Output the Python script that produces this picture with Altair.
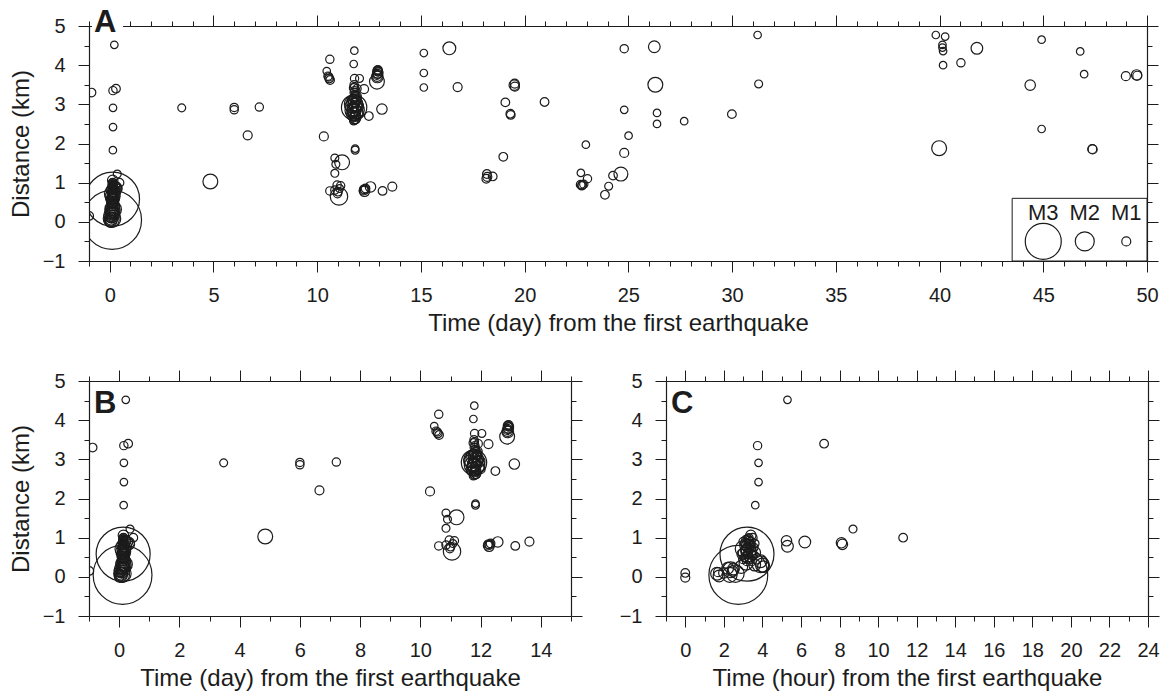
import altair as alt
import pandas as pd

# ---------------- data ----------------
# events in the first day after the first earthquake (time in hours)
early_hours = [0.0, 0.0, 1.65, 1.75, 1.7, 2.2, 2.3, 2.45, 2.6, 2.75, 3.2, 2.9, 3.15, 3.0, 3.05,
               3.25, 3.3, 3.4, 3.5, 3.2, 3.3, 3.4, 3.6, 3.7, 3.9, 4.0, 4.05, 3.0, 3.1, 3.25,
               3.5, 3.15, 3.35, 2.95, 3.6, 3.45, 3.63, 3.8, 3.8, 3.75, 5.3, 7.2, 5.25, 5.3,
               6.2, 8.1, 8.15, 8.7, 11.3, 2.35, 3.9,
               3.1, 3.2, 3.3, 3.35, 3.05, 3.25, 3.4, 3.15, 3.3, 3.45, 3.2, 3.55, 3.1, 3.35,
               3.0, 2.5, 2.0, 3.6]
early_km = [0.10, -0.02, 0.08, 0.02, 0.12, 0.22, 0.05, 0.15, 0.08, 0.05, 0.58, 0.25, 0.35, 0.72, 0.60,
            0.80, 0.92, 1.06, 1.00, 0.50, 0.65, 0.76, 0.62, 0.46, 0.40, 0.30, 0.26, 0.45, 0.86, 0.97,
            0.55, 0.70, 0.55, 0.58, 0.85, 0.40, 1.83, 2.42, 2.91, 3.35, 4.52, 3.40, 0.92, 0.78,
            0.89, 0.87, 0.83, 1.22, 1.00, 0.18, 0.32,
            0.65, 0.75, 0.70, 0.85, 0.80, 0.60, 0.90, 0.95, 1.00, 0.65, 0.40, 0.75, 0.50, 0.45,
            0.90, 0.20, 0.10, 0.30]
early_mag = [0.9, 1.0, 1.3, 1.2, 1.0, 1.2, 1.5, 1.1, 1.8, 3.6, 3.45, 1.3, 1.4, 1.6, 1.2,
             1.3, 1.0, 1.1, 0.9, 1.2, 1.5, 1.1, 1.2, 1.1, 1.3, 1.4, 1.2, 1.0, 1.0, 0.9,
             1.0, 1.1, 1.3, 1.1, 0.9, 1.0, 0.6, 0.6, 0.6, 0.8, 0.6, 0.9, 1.1, 1.2,
             1.2, 1.1, 1.1, 0.7, 0.9, 1.6, 1.7,
             0.9, 1.0, 0.9, 1.0, 0.9, 1.0, 0.9, 0.9, 0.8, 0.9, 1.0, 0.9, 0.9, 1.0,
             0.8, 1.2, 1.1, 1.2]

# later events (time in days)
late_days = [-0.88, -0.99,
             3.47, 6.0, 6.0, 7.21, 6.65, 4.85,
             10.32, 10.61, 11.79, 11.76, 10.46, 10.52, 10.58, 10.62, 10.56, 11.8, 12.04,
             11.92, 12.26, 12.49, 13.12,
             12.90, 12.92, 12.88, 12.90, 12.88, 12.95, 12.93, 12.90, 12.91, 12.89,
             11.78, 11.72, 11.85, 11.80, 11.75, 11.90, 11.82, 11.70, 11.88, 11.80, 11.76,
             11.84, 11.95, 11.65, 11.80, 12.00, 11.78, 11.90, 11.70, 11.85, 11.75,
             11.78, 11.82, 11.74, 11.86, 11.80, 11.77, 11.83, 11.79, 11.87, 11.73, 11.81,
             11.85, 11.76, 11.90, 11.68, 11.80, 11.84, 11.79,
             11.83, 11.83, 10.85, 10.90, 11.20, 10.85,
             10.61, 10.85, 10.96, 11.13, 11.00, 11.05, 11.08, 10.98,
             12.24, 12.28, 12.30, 12.33, 12.25, 12.57, 13.15, 13.62,
             15.14, 15.14, 15.14, 16.37, 16.77, 19.07, 19.31, 19.33, 19.52, 19.50, 19.53,
             20.96, 18.97, 18.18, 18.15, 18.46, 18.20, 22.71, 22.95, 23.03,
             22.70, 22.78, 22.85, 22.75, 23.87, 24.05, 24.26, 24.64, 24.8, 25.01, 24.8,
             24.8, 26.25, 26.3, 26.38, 26.38, 27.69, 29.99, 31.23, 31.28,
             39.82, 40.27, 40.14, 40.14, 40.17, 40.17, 41.03, 41.8, 39.98, 44.92, 44.37,
             44.92, 46.78, 46.97, 47.36, 47.38, 48.98, 49.5, 49.53]
late_km = [3.30, 0.15,
           2.91, 2.92, 2.86, 2.93, 2.21, 1.03,
           2.18, 4.15, 4.37, 4.03, 3.85, 3.72, 3.66, 3.62, 3.70, 3.66, 3.66,
           3.40, 3.39, 2.70, 2.88,
           3.86, 3.80, 3.75, 3.70, 3.58, 3.83, 3.88, 3.78, 3.84, 3.72,
           2.92, 2.85, 3.00, 3.10, 2.75, 2.80, 2.65, 3.05, 3.20, 3.30, 3.42,
           2.70, 2.95, 2.95, 2.60, 2.75, 3.50, 3.10, 2.70, 2.85, 3.00,
           2.95, 3.05, 2.90, 2.90, 2.80, 3.15, 3.25, 2.70, 3.05, 2.80, 3.35,
           2.62, 2.58, 2.95, 3.10, 3.45, 3.15, 2.85,
           1.87, 1.83, 1.63, 1.47, 1.52, 1.24,
           0.79, 0.81, 0.94, 0.92, 0.77, 0.65, 0.85, 0.72,
           0.80, 0.78, 0.82, 0.85, 0.83, 0.89, 0.79, 0.90,
           4.31, 3.80, 3.43, 4.43, 3.44, 3.05, 2.76, 2.73, 3.53, 3.49, 3.45,
           3.06, 1.66, 1.22, 1.10, 1.16, 1.15, 1.25, 1.97, 1.10,
           0.95, 0.94, 0.96, 0.92, 0.69, 0.91, 1.18, 1.22, 1.76, 2.20, 2.86,
           4.42, 4.47, 3.50, 2.78, 2.50, 2.57, 2.75, 4.77, 3.52,
           4.77, 4.73, 4.52, 4.45, 4.36, 4.00, 4.06, 4.43, 1.88, 4.65, 3.49,
           2.37, 4.35, 3.77, 1.86, 1.85, 3.72, 3.75, 3.73]
late_mag = [0.9, 0.9,
            0.7, 0.8, 0.8, 0.8, 1.0, 1.5,
            1.0, 0.8, 0.6, 0.6, 0.6, 0.8, 0.9, 0.9, 0.8, 0.8, 0.7,
            0.8, 1.0, 0.9, 1.1,
            1.0, 1.1, 1.0, 1.2, 1.5, 0.9, 0.9, 1.0, 1.0, 1.1,
            2.3, 1.6, 1.5, 1.3, 1.4, 1.3, 1.2, 1.2, 1.1, 1.0, 0.9,
            1.1, 1.2, 1.3, 1.0, 1.0, 0.8, 1.0, 1.0, 1.8, 1.9,
            1.0, 0.9, 0.9, 1.0, 0.9, 0.9, 0.8, 0.9, 1.0, 1.1, 0.8,
            0.9, 0.8, 1.1, 1.0, 0.7, 1.2, 1.4,
            0.6, 0.7, 0.7, 0.7, 1.5, 0.7,
            0.8, 0.8, 0.8, 0.8, 0.9, 1.8, 0.7, 0.8,
            1.0, 1.1, 1.0, 0.9, 0.9, 1.1, 0.9, 1.0,
            0.6, 0.6, 0.6, 1.3, 1.0, 0.9, 0.9, 0.9, 1.0, 1.1, 1.0,
            0.9, 0.9, 0.9, 0.9, 0.9, 1.0, 0.6, 0.6, 0.8,
            0.9, 0.9, 0.8, 0.8, 0.9, 0.7, 0.9, 1.4, 1.0, 0.6, 0.6,
            0.8, 1.2, 1.5, 0.6, 0.6, 0.6, 0.9, 0.6, 0.7,
            0.6, 0.6, 0.6, 0.6, 0.6, 0.6, 0.8, 1.2, 1.5, 0.6, 1.1,
            0.6, 0.6, 0.6, 1.0, 1.0, 1.0, 1.1, 1.0]

# magnitude legend of panel A (placed in data coordinates)
legend_day = [45, 47, 49]
legend_km = [-0.5, -0.5, -0.5]
legend_mag = [3, 2, 1]
legend_label = ["M3", "M2", "M1"]
legend_label_km = [0.22, 0.22, 0.22]
legend_box_day = [43.5, 50]
legend_box_km = [-1, 0.6]

# tick values
y_major = [-1, 0, 1, 2, 3, 4, 5]
y_minor = [-0.5, 0.5, 1.5, 2.5, 3.5, 4.5]
a_major = list(range(0, 51, 5))
a_minor = [d for d in range(-1, 51) if d % 5 != 0]
b_major = list(range(0, 15, 2))
b_minor = list(range(-1, 16, 2))
c_major = list(range(0, 25, 2))
c_minor = list(range(-1, 24, 2))

# ---------------- tables ----------------
events = pd.DataFrame({
    "day": [h / 24 for h in early_hours] + late_days,
    "km": early_km + late_km,
    "mag": early_mag + late_mag,
})
events["hour"] = events["day"] * 24
first_day = events[(events["day"] > -1 / 24) & (events["day"] <= 1)].reset_index(drop=True)

legend_df = pd.DataFrame({"day": legend_day, "km": legend_km, "mag": legend_mag,
                          "label": legend_label, "label_km": legend_label_km})
box_df = pd.DataFrame({"x": [legend_box_day[0]], "x2": [legend_box_day[1]],
                       "y": [legend_box_km[0]], "y2": [legend_box_km[1]]})

FONT = "Liberation Sans"
INK = "#1c1c1c"
SIZE = alt.Scale(domain=[0, 1, 2, 3, 4], range=[20, 81, 361, 1296, 4900])
Y_SCALE = alt.Scale(domain=[-1, 5], nice=False, zero=False)


def ax(orient, values, size, labels=False, title=None, domain=False, title_pad=6):
    return alt.Axis(orient=orient, values=values, tickSize=size, labels=labels,
                    domain=domain, grid=False, ticks=True, title=title,
                    titlePadding=title_pad, labelPadding=13, labelFlush=False,
                    labelOverlap=False, labelFont=FONT, labelFontSize=20,
                    titleFont=FONT, titleFontSize=24, titleFontWeight="normal",
                    labelColor=INK, titleColor=INK, tickColor=INK, domainColor=INK,
                    domainWidth=1.2, tickWidth=1)


def panel(df, xf, xdom, xmaj, xmin, w, h, xtitle, ytitle, letter, mask=False, legend=False):
    xs = alt.Scale(domain=xdom, nice=False, zero=False)
    base = alt.Chart(df)
    pts = base.mark_point(shape="circle", filled=False, clip=True, color=INK,
                          strokeWidth=1.2, opacity=1).encode(
        x=alt.X(f"{xf}:Q", scale=xs,
                axis=ax("bottom", xmaj, 11, labels=True, title=xtitle, domain=True, title_pad=6)),
        y=alt.Y("km:Q", scale=Y_SCALE,
                axis=ax("left", y_major, 11, labels=True, title=ytitle, domain=True, title_pad=9)),
        size=alt.Size("mag:Q", scale=SIZE, legend=None),
    )

    def ghost(xaxis, yaxis):
        return base.mark_point(opacity=0, clip=True, size=1).encode(
            x=alt.X(f"{xf}:Q", scale=xs, axis=xaxis),
            y=alt.Y("km:Q", scale=Y_SCALE, axis=yaxis))

    layers = [
        ghost(ax("bottom", xmin, 5), ax("left", y_minor, 5)),
        ghost(ax("top", xmaj, 11, domain=True), ax("right", y_major, 11, domain=True)),
        ghost(ax("top", xmin, 5), ax("right", y_minor, 5)),
        pts,
    ]
    if legend:
        layers.append(alt.Chart(box_df).mark_rect(fill="white", stroke=INK, strokeWidth=1).encode(
            x=alt.X("x:Q", scale=xs, axis=None), x2="x2:Q",
            y=alt.Y("y:Q", scale=Y_SCALE, axis=None), y2="y2:Q"))
        layers.append(alt.Chart(legend_df).mark_point(shape="circle", filled=False, color=INK,
                                                      strokeWidth=1.2, opacity=1).encode(
            x=alt.X("day:Q", scale=xs, axis=None),
            y=alt.Y("km:Q", scale=Y_SCALE, axis=None),
            size=alt.Size("mag:Q", scale=SIZE, legend=None)))
        layers.append(alt.Chart(legend_df).mark_text(font=FONT, fontSize=22, color=INK,
                                                     baseline="middle").encode(
            x=alt.X("day:Q", scale=xs, axis=None),
            y=alt.Y("label_km:Q", scale=Y_SCALE, axis=None),
            text="label:N"))
    if mask:
        layers.append(alt.Chart(pd.DataFrame({"t": [letter]})).mark_rect(fill="white").encode(
            x=alt.value(3), x2=alt.value(34), y=alt.value(-15), y2=alt.value(6)))
    layers.append(alt.Chart(pd.DataFrame({"t": [letter]})).mark_text(
        font=FONT, fontSize=31, fontWeight="bold", color=INK, align="left",
        baseline="alphabetic").encode(
        text="t:N", x=alt.value(5), y=alt.value(6 if mask else 32)))

    return alt.layer(*layers).resolve_axis(x="independent", y="independent").properties(
        width=w, height=h)


pA = panel(events, "day", [-1, 50], a_major, a_minor, 1058, 235,
           "Time (day) from the first earthquake", "Distance (km)", "A", mask=True, legend=True)
pB = panel(events, "day", [-1, 15], b_major, b_minor, 482, 235,
           "Time (day) from the first earthquake", "Distance (km)", "B")
pC = panel(first_day, "hour", [-1, 24], c_major, c_minor, 482, 235,
           "Time (hour) from the first earthquake", None, "C")

chart = alt.vconcat(pA, alt.hconcat(pB, pC, spacing=35), spacing=33).properties(
    padding={"left": 8, "top": 6, "right": 5, "bottom": 5},
    background="white",
).configure_view(stroke="transparent")

chart.save("out.html", embed_options={"renderer": "svg", "actions": False})
